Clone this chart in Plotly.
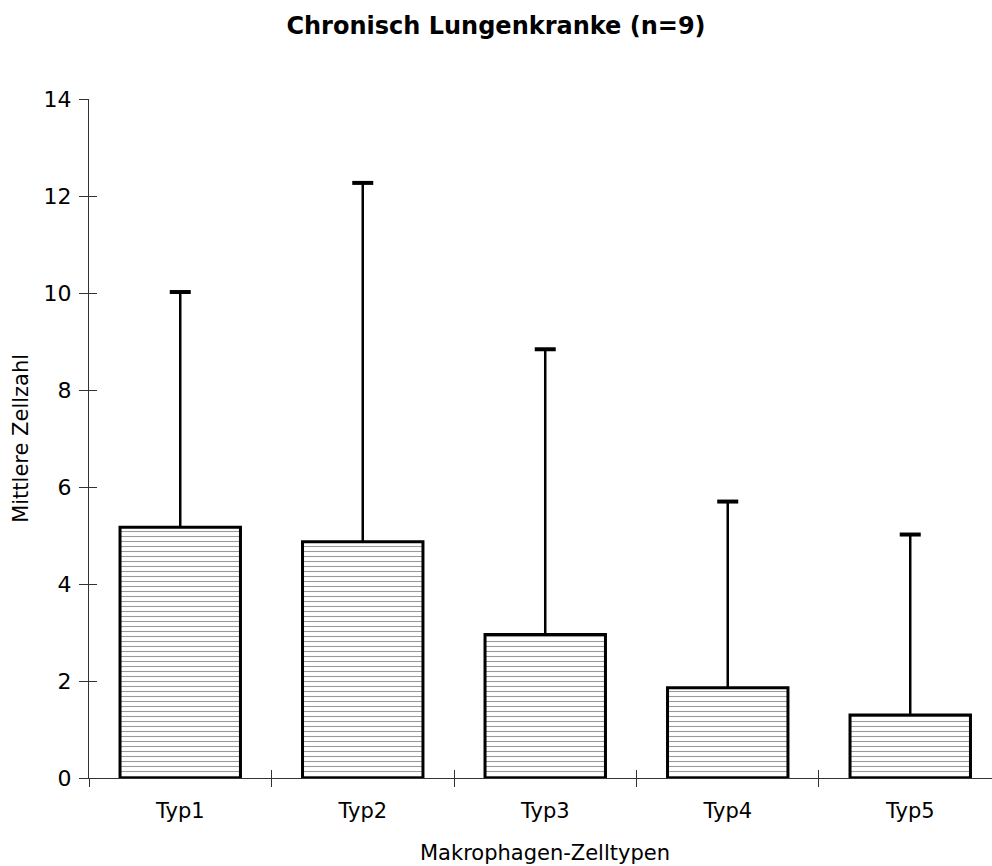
import plotly.graph_objects as go

categories = ["Typ1", "Typ2", "Typ3", "Typ4", "Typ5"]
means = [5.17, 4.87, 2.96, 1.86, 1.30]
upper = [10.02, 12.27, 8.84, 5.70, 5.02]
y_ticks = [0, 2, 4, 6, 8, 10, 12, 14]

err_plus = [u - m for u, m in zip(upper, means)]

FONT = "DejaVu Sans"

fig = go.Figure()

fig.add_trace(go.Bar(
    x=categories, y=means, width=0.66,
    marker=dict(color="white",
                line=dict(color="black", width=3),
                pattern=dict(shape="-", fgcolor="#333333", bgcolor="white",
                             size=5, solidity=0.22)),
    error_y=dict(type="data", symmetric=False, array=err_plus,
                 arrayminus=[0] * len(means), color="black",
                 thickness=2.5, width=0),
    showlegend=False, hoverinfo="skip",
))

# caps of error bars
fig.add_trace(go.Scatter(
    x=categories, y=upper, mode="markers",
    marker=dict(symbol="line-ew", size=15, line=dict(color="black", width=4)),
    showlegend=False, hoverinfo="skip",
))

# invisible trace to give the overlay x axis its categories
fig.add_trace(go.Bar(x=categories, y=[0] * len(categories), xaxis="x2",
                     yaxis="y2", opacity=0, showlegend=False, hoverinfo="skip"))

xr = [-0.5, 4.448]
fig.update_layout(
    width=992, height=866,
    margin=dict(l=89, r=0, t=99, b=88),
    paper_bgcolor="white", plot_bgcolor="white",
    font=dict(family=FONT, color="black", size=21),
    title=dict(text="<b>Chronisch Lungenkranke (n=9)</b>", x=0.5, xanchor="center",
               y=0.97, yanchor="middle", font=dict(size=24, family=FONT)),
    xaxis=dict(type="category", range=xr, tickson="boundaries", ticks="outside",
               ticklen=8, tickcolor="#333", tickwidth=1, showline=True,
               linecolor="#333", linewidth=1, showgrid=False, zeroline=False,
               ticklabelstandoff=14, tickfont=dict(size=21)),
    xaxis2=dict(type="category", range=xr, overlaying="x", tickson="boundaries",
                ticks="inside", ticklen=8, tickcolor="#333", tickwidth=1,
                showticklabels=False, showline=False, showgrid=False,
                zeroline=False, side="bottom", anchor="y2"),
    yaxis=dict(range=[0, 14], tickvals=y_ticks, ticks="outside", ticklen=9,
               tickcolor="#333", tickwidth=1, showline=True, linecolor="#333",
               linewidth=1, showgrid=False, zeroline=False,
               tickfont=dict(size=22), ticklabelstandoff=3),
    yaxis2=dict(range=[0, 14], tickvals=y_ticks, ticks="inside", ticklen=8,
                tickcolor="#333", tickwidth=1, overlaying="y", side="left",
                showticklabels=False, showline=False, showgrid=False,
                zeroline=False, anchor="x2"),
    bargap=0.34,
)

fig.add_annotation(text="Makrophagen-Zelltypen", xref="x", x=2, yref="paper",
                   y=-0.11, yanchor="middle", showarrow=False,
                   font=dict(size=21))
fig.add_annotation(text="Mittlere Zellzahl", xref="paper", x=-0.076,
                   yref="paper", y=0.5, textangle=-90, xanchor="center",
                   yanchor="middle", showarrow=False, font=dict(size=21))

fig.write_html("out.html")
